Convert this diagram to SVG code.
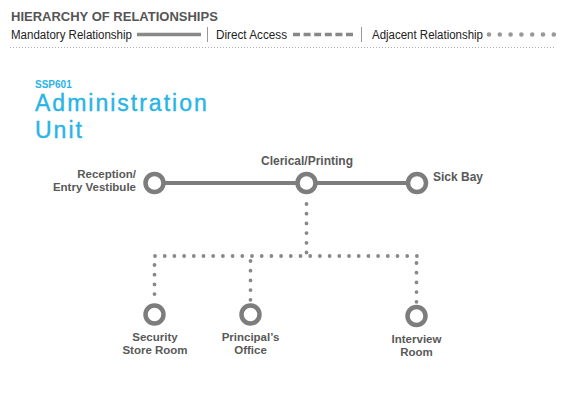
<svg xmlns="http://www.w3.org/2000/svg" width="565" height="400" viewBox="0 0 565 400">
<style>
.leg{font-family:"Liberation Sans",Arial,sans-serif;font-size:12px;fill:#222}
.legh{font-family:"Liberation Sans",Arial,sans-serif;font-size:13px;font-weight:bold;fill:#555}
.lbl{font-family:"Liberation Sans",Arial,sans-serif;font-size:12px;font-weight:bold;fill:#595959}
.lbl2{font-family:"Liberation Sans",Arial,sans-serif;font-size:11.5px;font-weight:bold;fill:#595959}
.ttl{font-family:"Liberation Sans",Arial,sans-serif;fill:#29b4e6}
.node{fill:#fff;stroke:#7d7d7d;stroke-width:4.5}
.solid{stroke:#7d7d7d;stroke-width:4;fill:none}
.dot{stroke:#888;stroke-width:3.8;stroke-linecap:round;stroke-dasharray:0 9.7;fill:none}
.sep{stroke:#999;stroke-width:1}
</style>
<rect width="565" height="400" fill="#fff"/>
<g id="legend">
<text class="legh" x="11" y="21">HIERARCHY OF RELATIONSHIPS</text>
<text class="leg" x="11" y="38.5" textLength="121" lengthAdjust="spacingAndGlyphs">Mandatory Relationship</text>
<line x1="137" y1="34.5" x2="201" y2="34.5" stroke="#888" stroke-width="3.5"/>
<line class="sep" x1="207.5" y1="27" x2="207.5" y2="42"/>
<text class="leg" x="216" y="38.5" textLength="71" lengthAdjust="spacingAndGlyphs">Direct Access</text>
<line x1="293" y1="34.5" x2="355" y2="34.5" stroke="#888" stroke-width="3.5" stroke-dasharray="7 3.6"/>
<line class="sep" x1="361.5" y1="27" x2="361.5" y2="42"/>
<text class="leg" x="372" y="38.5" textLength="111" lengthAdjust="spacingAndGlyphs">Adjacent Relationship</text>
<line x1="489" y1="34.5" x2="554" y2="34.5" stroke="#999" stroke-width="4.6" stroke-linecap="round" stroke-dasharray="0 10.8"/>
<line x1="10" y1="47.5" x2="556" y2="47.5" stroke="#aaa" stroke-width="1" stroke-dasharray="1 2"/>
</g>
<g id="title">
<text class="ttl" x="35" y="87.5" font-size="10" font-weight="bold">SSP601</text>
<text class="ttl" x="35" y="111" font-size="23" letter-spacing="2" stroke="#29b4e6" stroke-width="0.4">Administration</text>
<text class="ttl" x="35" y="138" font-size="23" letter-spacing="2" stroke="#29b4e6" stroke-width="0.4">Unit</text>
</g>
<g id="connectors">
<line class="solid" x1="154.5" y1="183" x2="417" y2="183"/>
<path class="dot" d="M306.5 204 V256" stroke-dasharray="0 10"/>
<path class="dot" d="M155 256 H417"/>
<path class="dot" d="M154.5 265 V296"/>
<path class="dot" d="M250.5 261 V301"/>
<path class="dot" d="M416.5 263 V303"/>
</g>
<g id="reception">
<circle class="node" cx="154.5" cy="183" r="9"/>
<text class="lbl2" x="136" y="177.5" text-anchor="end">Reception/</text>
<text class="lbl2" x="136" y="190.5" text-anchor="end">Entry Vestibule</text>
</g>
<g id="clerical">
<circle class="node" cx="306.5" cy="183" r="9"/>
<text class="lbl" x="307" y="165" text-anchor="middle">Clerical/Printing</text>
</g>
<g id="sickbay">
<circle class="node" cx="417" cy="183" r="9"/>
<text class="lbl" x="433" y="181">Sick Bay</text>
</g>
<g id="security">
<circle class="node" cx="154.5" cy="314.5" r="9"/>
<text class="lbl2" x="155" y="340.5" text-anchor="middle">Security</text>
<text class="lbl2" x="155" y="353.5" text-anchor="middle">Store Room</text>
</g>
<g id="principal">
<circle class="node" cx="250.5" cy="314.5" r="9"/>
<text class="lbl2" x="250.5" y="340.5" text-anchor="middle">Principal’s</text>
<text class="lbl2" x="250.5" y="353.5" text-anchor="middle">Office</text>
</g>
<g id="interview">
<circle class="node" cx="416.5" cy="316" r="9"/>
<text class="lbl2" x="416.5" y="343" text-anchor="middle">Interview</text>
<text class="lbl2" x="416.5" y="356" text-anchor="middle">Room</text>
</g>
</svg>
